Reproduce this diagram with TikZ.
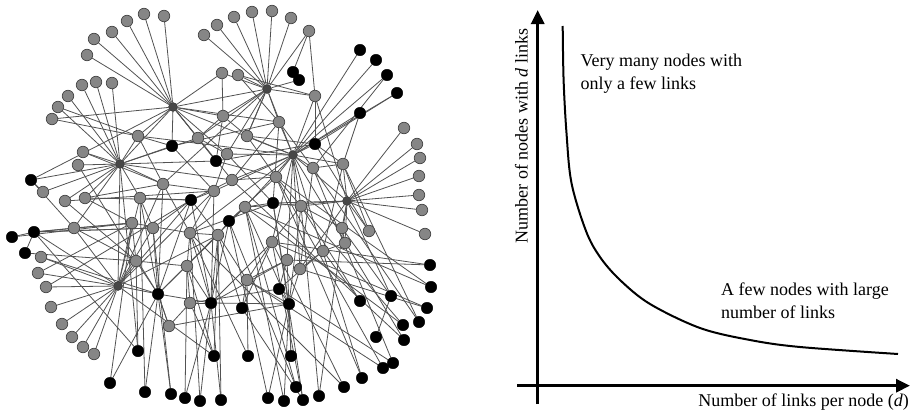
\documentclass[tikz,border=0pt]{standalone}
\usepackage{fontspec}
\setmainfont{Liberation Serif}
\usetikzlibrary{arrows.meta,backgrounds}
\tikzset{
  gn/.style={circle,fill=gray!95,draw=gray!55!black,line width=0.7pt,minimum size=11.5pt,inner sep=0pt},
  bn/.style={circle,fill=black,draw=black,line width=0.4pt,minimum size=11.5pt,inner sep=0pt},
  hn/.style={circle,fill=black!72,draw=black!80,line width=0.4pt,minimum size=9pt,inner sep=0pt},
  link/.style={draw=black!68,line width=0.8pt},
  axis/.style={line width=3pt,-{Triangle[length=14pt,width=13pt]}},
  lbl/.style={font=\fontsize{18}{23}\selectfont,inner sep=0pt,align=left}
}
\begin{document}
\begin{tikzpicture}[x=1pt,y=-1pt]
\useasboundingbox (0,0) rectangle (914,415);
% ---- nodes ----
\foreach \n/\x/\y in {g1/144/14,g2/164/16,g3/127/21,g4/112/32,g5/94/39,g6/87/55,g7/82/85,g8/96/82,g9/112/83,
 g10/68/96,g11/58/107,g12/52/119,g13/83/152,g14/78/165,g15/43/192,g16/65/201,g17/85/198,g18/217/25,g19/204/35,
 g20/234/17,g21/252/12,g22/272/11,g23/291/18,g24/309/31,g25/222/73,g26/238/75,g27/223/116,g28/138/136,g29/198/138,
 g30/227/154,g31/163/184,g32/214/191,g33/232/180,g34/140/198,g35/315/96,g36/279/122,g37/247/136,g38/313/168,
 g39/343/164,g40/276/177,g41/301/206,g42/404/128,g43/417/144,g44/420/158,g45/419/176,g46/419/195,g47/422/210,
 g48/425/234,g49/74/228,g50/132/223,g51/153/228,g52/190/233,g53/218/235,g54/136/261,g55/187/266,g56/190/303,
 g57/169/326,g58/41/257,g59/38/273,g60/46/287,g61/51/307,g62/62/324,g63/72/337,g64/83/347,g65/94/354,
 g66/245/207,g67/342/228,g68/345/243,g69/272/242,g70/323/251,g71/287/260,g72/300/269,g73/247/280,g74/369/231}
 \node[gn] (\n) at (\x,\y) {};
\foreach \n/\x/\y in {b1/293/72,b2/299/80,b3/360/50,b4/376/60,b5/387/75,b6/397/93,b7/360/113,b8/315/144,
 b9/172/146,b10/216/161,b11/31/180,b12/191/200,b13/273/203,b14/229/221,b15/12/237,b16/34/232,b17/25/253,
 b18/158/294,b19/211/303,b20/289/304,b21/279/289,b22/242/308,b23/138/351,b24/214/356,b25/110/383,b26/145/392,
 b27/171/394,b28/185/398,b29/200/401,b30/221/400,b32/248/356,b33/291/356,b34/268/398,b35/284/401,b36/303/400,
 b37/319/396,b38/296/387,b39/344/387,b40/362/378,b41/383/368,b42/393/363,b43/376/337,b44/391/296,b45/360/301,
 b46/404/340,b47/403/325,b48/419/322,b49/427/308,b50/431/287,b51/430/265}
 \node[bn] (\n) at (\x,\y) {};
\foreach \n/\x/\y in {h1/173/107,h2/120/164,h3/267/89,h4/293/155,h5/347/201,h6/118/286}
 \node[hn] (\n) at (\x,\y) {};
% ---- links ----
\begin{scope}[on background layer]
\foreach \a/\b in {h1/g1,h1/g2,h1/g3,h1/g4,h1/g5,h1/g6,h1/g25,h1/g27,h1/g28,h1/g29,h1/b9,h1/h2,h1/h3,h1/h4,
 h1/g30,h1/b10,h1/g12,h1/b11,h1/g33,h1/g36,
 h2/g7,h2/g8,h2/g9,h2/g10,h2/g11,h2/g13,h2/g14,h2/g15,h2/g16,h2/g17,h2/g28,h2/g34,h2/b9,h2/h6,h2/g49,h2/g31,
 h2/b10,h2/g33,h2/b11,h2/b23,h2/g29,
 h3/g18,h3/g19,h3/g20,h3/g21,h3/g22,h3/g23,h3/g24,h3/g25,h3/g26,h3/g35,h3/g36,h3/g37,h3/b2,h3/h4,h3/g29,h3/g27,
 h3/g37,h3/g30,h3/g31,
 b1/b2,b1/g24,
 h4/b3,h4/b4,h4/b5,h4/b6,h4/b7,h4/g35,h4/g36,h4/g37,h4/g38,h4/g39,h4/g40,h4/g41,h4/b8,h4/g66,h4/g69,h4/g71,
 h4/g72,h4/h5,h4/g30,h4/g33,h4/b40,h4/b46,h4/g32,h4/g52,
 h5/g42,h5/g43,h5/g44,h5/g45,h5/g46,h5/g47,h5/g48,h5/g39,h5/g67,h5/g68,h5/g74,h5/b44,h5/b13,h5/g41,h5/g35,
 h5/g72,h5/b37,h5/g66,
 h6/g58,h6/g59,h6/g60,h6/g61,h6/g62,h6/g63,h6/g64,h6/g65,h6/g49,h6/g54,h6/b18,h6/g50,h6/g34,h6/b16,h6/g51,
 h6/g31,h6/b12,h6/g53,h6/g32,h6/b24,
 b16/b15,b16/b17,b16/g49,b16/b23,b16/g51,b16/g50,
 b18/b25,b18/b26,b18/b27,b18/g54,b18/g57,b18/b12,b18/g51,b18/g31,b18/b19,b18/g66,b18/g34,b18/g53,
 b19/b28,b19/b29,b19/b30,b19/g56,b19/g52,b19/b14,b19/g53,b19/b20,b19/g71,b19/b12,b19/g69,b19/g32,
 b20/b33,b20/b34,b20/b35,b20/b21,b20/g73,b20/g72,b20/g41,b20/g66,b20/g71,b20/b13,
 b21/g71,b22/b36,b22/g73,b22/g53,b22/g69,b32/g73,b32/g52,b24/g56,b24/g53,b24/g55,
 b36/b13,b37/g41,b38/g66,b39/g69,b40/g40,b41/g40,b42/g38,b43/b44,b44/g67,b45/g70,b45/g41,b46/g33,b47/g41,b47/g66,
 b48/g39,b48/g38,b49/g72,b49/g69,b50/g40,b50/g66,b51/g69,b51/g71,b38/b14,b39/g52,b41/g73,b42/b21,
 b26/g34,b27/g51,b28/g55,b29/g52,b30/g53,b23/g54,b25/g50,b34/b14,b35/g66,b33/b20,b36/g69,
 g27/g29,g29/b10,g30/g32,g31/g32,g32/b12,g33/g40,g34/g51,g50/g52,g52/g53,g53/b14,b14/g66,g66/b13,b13/g41,
 g70/g72,g71/g73,g55/b19,g55/g52,g36/b9,g37/g27,g35/b8,b8/g39,g38/g39,g28/g31,g17/g31,g49/g50,g50/g54,
 b11/g15,g16/g32,g17/b12,b16/g51,g58/b18,g13/g31,g28/b9,g28/h4,g29/g30,g27/b10,g37/g40,g36/g33,g36/b13,
 g40/g41,g40/b14,g33/b12,g32/g52,g52/b13,g51/b12,g54/g55,g55/g56,g56/g57,g57/b18,g57/b20,g56/b21,g73/g53,
 g67/g68,g68/g70,g67/g41,g74/b8,g74/g39,b7/g39,b6/b8,b5/g38,b8/b10,b8/g37,g35/g26,g26/g36,g25/g27,g24/g35,
 g36/g38,g38/g72,g39/g70,g70/b21,g41/g69,g69/g73,b12/g53,g34/b12,g31/g52,b9/g32,b10/g40,g30/b13,g12/g28,
 g11/g28,b11/g49,b15/g50,g49/g54,g14/b18,g16/g54,g17/g50,g60/b12,g59/g50,b17/g54}
 \draw[link] (\a) -- (\b);
\end{scope}
% ---- right chart ----
\coordinate (yb) at (537.7,404);
\coordinate (yt) at (537.7,10);
\coordinate (xl) at (517,385.7);
\coordinate (xr) at (910,385.7);
\draw[axis] (yb) -- (yt);
\draw[axis] (xl) -- (xr);
\draw[line width=2pt] plot[smooth,tension=0.55] coordinates {(562.7,26) (563.6,80) (566.5,133) (571.5,183) (586,231) (600,257) (620,280) (650,304) (700,328) (750,340) (800,347) (898,354)};
\node[lbl,anchor=west] (t1) at (580.5,73.5) {Very many nodes with\\only a few links};
\node[lbl,anchor=west] (t2) at (721,301) {A few nodes with large\\number of links};
\node[lbl,anchor=east] (xlab) at (909,402) {Number of links per node (\textit{d})};
\node[lbl,rotate=90] (ylab) at (521.5,136) {Number of nodes with \textit{d} links};
\end{tikzpicture}
\end{document}
